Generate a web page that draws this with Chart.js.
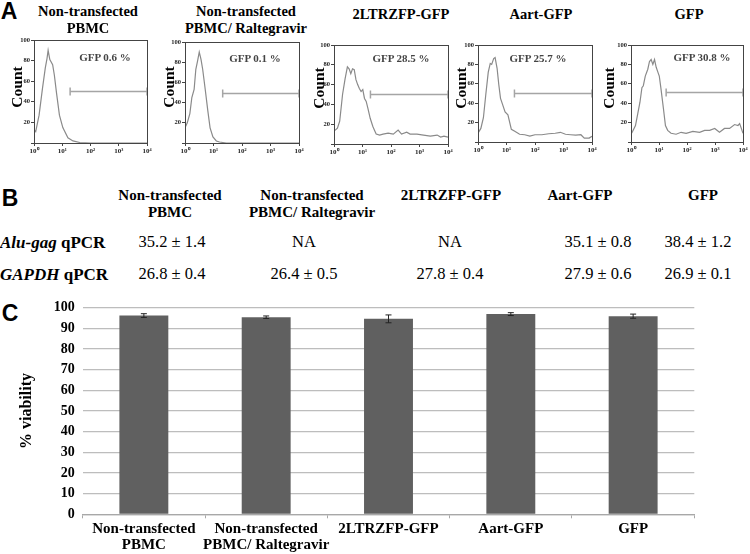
<!DOCTYPE html>
<html>
<head>
<meta charset="utf-8">
<script src="https://cdn.jsdelivr.net/npm/chart.js@4.4.1/dist/chart.umd.min.js"></script>
<style>
  html, body { margin: 0; padding: 0; background: #fff; }
  #page { position: relative; width: 750px; height: 554px; overflow: hidden; background: #fff; }
  #page canvas { position: absolute; }
  .t { position: absolute; transform: translate(-50%, -50%); white-space: nowrap; font-family: "Liberation Serif", "Times New Roman", serif; color: #000; line-height: 1; }
  .l { position: absolute; transform: translate(0, -50%); white-space: nowrap; font-family: "Liberation Serif", "Times New Roman", serif; color: #000; line-height: 1; }
  .panel { font-family: "Liberation Sans", Arial, sans-serif; font-weight: bold; font-size: 23px; }
</style>
</head>
<body>
<div id="page"></div>
<script>
// ---- data ----
// A: flow histograms, x given as log10 of fluorescence, y = count
const histLog1 = [0, 0.06, 0.18, 0.30, 0.40, 0.46, 0.50, 0.56, 0.66, 0.72, 0.80, 0.90, 1.02, 1.20, 1.38, 1.62, 2.0, 4.0]
const histCount1 = [13, 11, 27, 53, 73, 82, 90, 81, 76, 66, 48, 27, 15, 5, 2, 0.5, 0, 0]

const histLog2 = [0, 0.08, 0.17, 0.24, 0.32, 0.38, 0.44, 0.50, 0.56, 0.62, 0.71, 0.80, 0.88, 0.98, 1.10, 1.21, 1.45, 4.0]
const histCount2 = [15, 20, 29, 45, 53, 73, 81, 90, 83, 73, 53, 32, 15, 6, 2, 1, 0, 0]

const histLog3 = [0, 0.04, 0.12, 0.20, 0.30, 0.39, 0.47, 0.53, 0.59, 0.65, 0.71, 0.77, 0.83, 0.89, 0.95, 1.01, 1.07, 1.13, 1.19, 1.27, 1.36, 1.42, 1.48, 1.60, 1.72, 1.90, 2.08, 2.25, 2.37, 2.55, 2.67, 2.91, 3.14, 3.38, 3.62, 3.74, 3.86, 4.0]
const histCount3 = [14, 14, 16, 23, 50, 66, 78, 76, 71, 76, 75, 65, 60, 56, 53, 55, 46, 43, 36, 26, 18, 14, 10, 9, 10, 11, 10, 14, 10, 12, 10, 10, 9, 8, 9, 7, 8, 7]

const histLog4 = [0, 0.10, 0.19, 0.27, 0.36, 0.43, 0.48, 0.55, 0.60, 0.67, 0.73, 0.79, 0.87, 0.95, 1.05, 1.17, 1.29, 1.46, 1.64, 1.82, 2.0, 2.24, 2.48, 2.71, 2.89, 3.07, 3.25, 3.43, 3.61, 3.73, 3.90, 4.0]
const histCount4 = [9, 14, 25, 48, 72, 81, 80, 86, 87, 76, 59, 45, 38, 31, 28, 13, 11, 8, 7.5, 6, 7.5, 7.5, 8.5, 9, 10, 8, 7.5, 7, 7.5, 4, 4, 6]

const histLog5 = [0, 0.06, 0.16, 0.24, 0.32, 0.39, 0.44, 0.51, 0.60, 0.66, 0.72, 0.78, 0.84, 0.90, 0.96, 1.01, 1.07, 1.16, 1.23, 1.31, 1.43, 1.61, 1.79, 1.97, 2.21, 2.45, 2.63, 2.81, 2.99, 3.16, 3.34, 3.52, 3.70, 3.82, 3.88, 3.94, 4.0]
const histCount5 = [8, 11, 17, 29, 41, 56, 58, 68, 75, 83, 85, 80, 85, 77, 72, 68, 55, 34, 17, 12, 9, 8, 10, 9, 11, 10, 12, 12, 14, 10, 14, 14, 18, 17, 19, 14, 9]

const histTitles = [["Non-transfected", "PBMC"], ["Non-transfected", "PBMC/ Raltegravir"], ["2LTRZFP-GFP"], ["Aart-GFP"], ["GFP"]]
const gfpPercent = ["0.6", "0.1", "28.5", "25.7", "30.8"]
const gateStart = [19, 21, 19, 19, 18]
const gateCount = [50, 49, 50, 50, 51]
const decadeTicks = ["10⁰", "10¹", "10²", "10³", "10⁴"]

// B: qPCR table
const tableHeads = [["Non-transfected", "PBMC"], ["Non-transfected", "PBMC/ Raltegravir"], ["2LTRZFP-GFP"], ["Aart-GFP"], ["GFP"]]
const aluGag = ["35.2 ± 1.4", "NA", "NA", "35.1 ± 0.8", "38.4 ± 1.2"]
const gapdh = ["26.8 ± 0.4", "26.4 ± 0.5", "27.8 ± 0.4", "27.9 ± 0.6", "26.9 ± 0.1"]

// C: viability
const conditions = [["Non-transfected", "PBMC"], ["Non-transfected", "PBMC/ Raltegravir"], "2LTRZFP-GFP", "Aart-GFP", "GFP"]
const viability = [96.2, 95.4, 94.6, 96.9, 95.9]
const viabilityErr = [0.9, 0.6, 1.9, 0.7, 1.0]
const viabilityTicks = [0, 10, 20, 30, 40, 50, 60, 70, 80, 90, 100]

// ---- layout helpers ----
const page = document.getElementById("page")

function addText(html, x, y, css, cls) {
  const d = document.createElement("div")
  d.className = cls || "t"
  d.innerHTML = html
  d.style.left = x + "px"
  d.style.top = y + "px"
  if (css) d.style.cssText += css
  page.appendChild(d)
  return d
}

function addCanvas(left, top, w, h) {
  const c = document.createElement("canvas")
  c.width = w
  c.height = h
  c.style.left = left + "px"
  c.style.top = top + "px"
  c.style.width = w + "px"
  c.style.height = h + "px"
  page.appendChild(c)
  return c
}

const serifBold = (size, lh) => ({ family: "'Liberation Serif', 'Times New Roman', serif", weight: "bold", size: size, lineHeight: lh || 1.2 })

// frame around each histogram
const frameBox = {
  id: "frameBox",
  afterDraw(chart) {
    const { ctx, chartArea: a } = chart
    ctx.save()
    ctx.strokeStyle = "#444"
    ctx.lineWidth = 1
    ctx.strokeRect(a.left + 0.5, a.top + 0.5, a.right - a.left, a.bottom - a.top)
    ctx.restore()
  },
}

// ---- panel A ----
addText("A", 9, 11, "", "t panel")

const histLogs = [histLog1, histLog2, histLog3, histLog4, histLog5]
const histCounts = [histCount1, histCount2, histCount3, histCount4, histCount5]
const boxes = [
  { l: 34, r: 147, t: 40, b: 143, title: 88, tY: 11, count: [17, 87], gfp: [105, 57] },
  { l: 185, r: 299, t: 42, b: 143, title: 246, tY: 11, count: [169, 87], gfp: [255, 58] },
  { l: 334, r: 448, t: 45, b: 144, title: 401, tY: 14, count: [319, 88], gfp: [401, 58] },
  { l: 478, r: 592, t: 45, b: 142, title: 541, tY: 14, count: [461, 88], gfp: [538, 58] },
  { l: 631, r: 743, t: 45, b: 142, title: 689, tY: 14, count: [609, 88], gfp: [702, 57] },
]

boxes.forEach((bx, p) => {
  const yw = 22, xh = 14, padT = 6, padR = 8
  const cv = addCanvas(bx.l - yw, bx.t - padT, bx.r - bx.l + yw + padR, bx.b - bx.t + padT + xh)

  histTitles[p].forEach((line, k) => {
    addText(line, bx.title, bx.tY + k * 17, "font-weight:bold;font-size:14.5px;")
  })
  addText("Count", bx.count[0], bx.count[1], "font-weight:bold;font-size:15.5px;transform:translate(-50%,-50%) rotate(-90deg);")
  addText("GFP " + gfpPercent[p] + " %", bx.gfp[0], bx.gfp[1], "font-weight:bold;font-size:11px;color:#444;")

  new Chart(cv, {
    type: "line",
    data: {
      datasets: [
        {
          data: histLogs[p].map((e, i) => ({ x: Math.pow(10, e), y: histCounts[p][i] })),
          borderColor: "#8a8a8a",
          borderWidth: 1.2,
          pointRadius: 0,
          tension: 0,
        },
        {
          data: [{ x: gateStart[p], y: gateCount[p] }, { x: 10000, y: gateCount[p] }],
          borderColor: "#a5a5a5",
          borderWidth: 1.5,
          pointStyle: "line",
          rotation: 90,
          pointRadius: 4,
          pointBorderColor: "#a5a5a5",
          pointBorderWidth: 1.5,
          clip: false,
        },
      ],
    },
    options: {
      responsive: false,
      animation: false,
      layout: { padding: { top: padT, right: padR, left: 0, bottom: 0 } },
      plugins: { legend: { display: false }, tooltip: { enabled: false } },
      scales: {
        x: {
          type: "logarithmic",
          min: 1,
          max: 10000,
          grid: { drawOnChartArea: false, tickLength: 3, color: "#444" },
          border: { color: "#444" },
          ticks: {
            autoSkip: false,
            maxRotation: 0,
            padding: 1,
            color: "#222",
            font: serifBold(7),
            callback: (v) => {
              const e = Math.round(Math.log10(v))
              return Math.abs(Math.log10(v) - e) < 1e-6 ? decadeTicks[e] : null
            },
          },
          afterFit: (s) => { s.height = xh },
        },
        y: {
          min: 0,
          max: 100,
          grid: { drawOnChartArea: false, tickLength: 3, color: "#444" },
          border: { color: "#444" },
          ticks: {
            stepSize: 20,
            padding: 1,
            color: "#222",
            font: serifBold(6.5),
            callback: (v) => (v === 0 ? "" : v),
          },
          afterFit: (s) => { s.width = yw },
        },
      },
    },
    plugins: [frameBox],
  })
})

// ---- panel B ----
addText("B", 10, 198, "", "t panel")
const colX = [170, 312, 451, 580, 703]
const valX = [172, 304, 450, 598, 698]
tableHeads.forEach((lines, c) => {
  lines.forEach((line, k) => {
    addText(line, colX[c], 195 + k * 16.5, "font-weight:bold;font-size:15px;")
  })
})
addText("<i>Alu-gag</i> qPCR", 0, 242, "font-weight:bold;font-size:17px;", "l")
addText("<i>GAPDH</i> qPCR", 0, 274, "font-weight:bold;font-size:17px;", "l")
aluGag.forEach((v, c) => addText(v, valX[c], 242, "font-size:16.5px;"))
gapdh.forEach((v, c) => addText(v, valX[c], 274, "font-size:16.5px;"))

// ---- panel C ----
addText("C", 10, 313, "", "t panel")

const errorBars = {
  id: "errorBars",
  afterDatasetsDraw(chart) {
    const { ctx, scales: { y } } = chart
    const meta = chart.getDatasetMeta(0)
    ctx.save()
    ctx.strokeStyle = "#222"
    ctx.lineWidth = 1
    meta.data.forEach((bar, i) => {
      const hi = y.getPixelForValue(viability[i] + viabilityErr[i])
      const lo = y.getPixelForValue(viability[i] - viabilityErr[i])
      ctx.beginPath()
      ctx.moveTo(bar.x, hi)
      ctx.lineTo(bar.x, lo)
      ctx.moveTo(bar.x - 3, hi)
      ctx.lineTo(bar.x + 3, hi)
      ctx.moveTo(bar.x - 3, lo)
      ctx.lineTo(bar.x + 3, lo)
      ctx.stroke()
    })
    ctx.restore()
  },
}

const barCanvas = addCanvas(0, 290, 750, 264)
new Chart(barCanvas, {
  type: "bar",
  data: {
    labels: conditions,
    datasets: [
      {
        data: viability,
        backgroundColor: "#606060",
        borderWidth: 0,
        barPercentage: 0.4,
        categoryPercentage: 1,
      },
    ],
  },
  options: {
    responsive: false,
    animation: false,
    layout: { padding: { top: 17.7, right: 55.7, left: 0, bottom: 0 } },
    plugins: { legend: { display: false }, tooltip: { enabled: false } },
    scales: {
      x: {
        grid: { offset: true, drawOnChartArea: false, drawTicks: true, tickLength: 4, color: "#a8a8a8" },
        border: { color: "#a8a8a8", width: 1.3 },
        ticks: { color: "#000", font: serifBold(15, 1.05), padding: 3, maxRotation: 0, autoSkip: false },
        afterFit: (s) => { s.height = 39.7 },
      },
      y: {
        min: 0,
        max: 100,
        afterBuildTicks: (s) => { s.ticks = viabilityTicks.map((v) => ({ value: v })) },
        grid: { color: "#bdbdbd", lineWidth: 1.3, drawTicks: false },
        border: { display: false },
        ticks: { color: "#000", font: serifBold(14), padding: 8 },
        title: { display: true, text: "% viability", color: "#000", font: serifBold(16), padding: { top: 17, bottom: 0 } },
        afterFit: (s) => { s.width = 82.7 },
      },
    },
  },
  plugins: [errorBars],
})
</script>
</body>
</html>
